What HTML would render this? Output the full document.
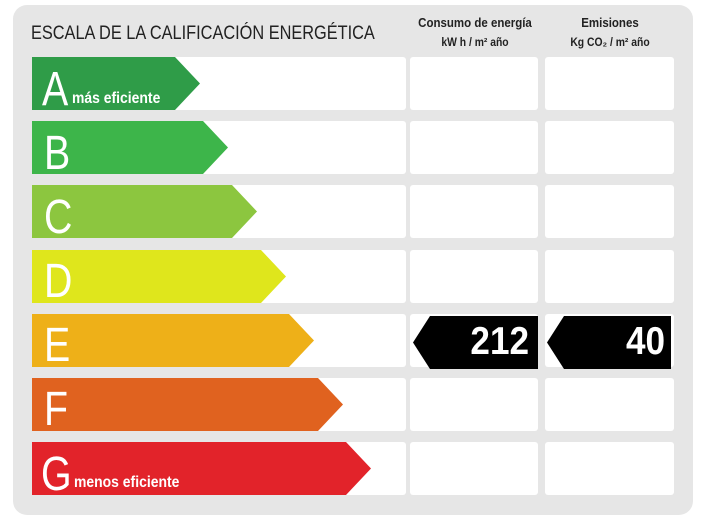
<!DOCTYPE html>
<html><head><meta charset="utf-8"><style>
html,body{margin:0;padding:0;background:#fff;}
svg{display:block;}
text{font-family:"Liberation Sans",sans-serif;}
</style></head><body>
<svg width="701" height="532" viewBox="0 0 701 532" xmlns="http://www.w3.org/2000/svg">
<rect x="0" y="0" width="701" height="532" fill="#fff"/>
<rect x="13" y="5" width="680" height="510" rx="14" fill="#e6e6e6"/>
<text x="31" y="39" font-size="19" fill="#222" transform="translate(31 0) scale(0.86 1) translate(-31 0)">ESCALA DE LA CALIFICACIÓN ENERGÉTICA</text>
<text x="475" y="27" font-size="12.5" font-weight="bold" fill="#222" text-anchor="middle" transform="translate(475 0) scale(0.92 1) translate(-475 0)">Consumo de energía</text>
<text x="475" y="46" font-size="11.5" font-weight="bold" fill="#222" text-anchor="middle" transform="translate(475 0) scale(0.9 1) translate(-475 0)">kW h / m² año</text>
<text x="610" y="27" font-size="12.5" font-weight="bold" fill="#222" text-anchor="middle" transform="translate(610 0) scale(0.92 1) translate(-610 0)">Emisiones</text>
<text x="610" y="46" font-size="11.5" font-weight="bold" fill="#222" text-anchor="middle" transform="translate(610 0) scale(0.9 1) translate(-610 0)">Kg CO₂ / m² año</text>
<g fill="#fff">
<rect x="32" y="57" width="374" height="53" rx="3"/><rect x="410" y="57" width="128" height="53" rx="3"/><rect x="545" y="57" width="129" height="53" rx="3"/>
<rect x="32" y="121" width="374" height="53" rx="3"/><rect x="410" y="121" width="128" height="53" rx="3"/><rect x="545" y="121" width="129" height="53" rx="3"/>
<rect x="32" y="185" width="374" height="53" rx="3"/><rect x="410" y="185" width="128" height="53" rx="3"/><rect x="545" y="185" width="129" height="53" rx="3"/>
<rect x="32" y="250" width="374" height="53" rx="3"/><rect x="410" y="250" width="128" height="53" rx="3"/><rect x="545" y="250" width="129" height="53" rx="3"/>
<rect x="32" y="314" width="374" height="53" rx="3"/><rect x="410" y="314" width="128" height="53" rx="3"/><rect x="545" y="314" width="129" height="53" rx="3"/>
<rect x="32" y="378" width="374" height="53" rx="3"/><rect x="410" y="378" width="128" height="53" rx="3"/><rect x="545" y="378" width="129" height="53" rx="3"/>
<rect x="32" y="442" width="374" height="53" rx="3"/><rect x="410" y="442" width="128" height="53" rx="3"/><rect x="545" y="442" width="129" height="53" rx="3"/>
</g>
<polygon points="32,57 175,57 200,83.5 175,110 32,110" fill="#2f9c48"/>
<polygon points="32,121 203,121 228,147.5 203,174 32,174" fill="#3db54a"/>
<polygon points="32,185 232,185 257,211.5 232,238 32,238" fill="#8cc63f"/>
<polygon points="32,250 261,250 286,276.5 261,303 32,303" fill="#dfe61c"/>
<polygon points="32,314 289,314 314,340.5 289,367 32,367" fill="#eeb018"/>
<polygon points="32,378 318,378 343,404.5 318,431 32,431" fill="#e0621f"/>
<polygon points="32,442 346,442 371,468.5 346,495 32,495" fill="#e2232a"/>
<g fill="#fff" font-size="48">
<text x="42" y="105" transform="translate(42 0) scale(0.82 1) translate(-42 0)">A</text>
<text x="44" y="169" transform="translate(44 0) scale(0.82 1) translate(-44 0)">B</text>
<text x="44" y="233" transform="translate(44 0) scale(0.82 1) translate(-44 0)">C</text>
<text x="44" y="297" transform="translate(44 0) scale(0.82 1) translate(-44 0)">D</text>
<text x="44" y="361" transform="translate(44 0) scale(0.82 1) translate(-44 0)">E</text>
<text x="44" y="425" transform="translate(44 0) scale(0.82 1) translate(-44 0)">F</text>
<text x="41" y="490" transform="translate(41 0) scale(0.82 1) translate(-41 0)">G</text>
</g>
<text x="72" y="103" font-size="15.5" font-weight="bold" fill="#fff" transform="translate(72 0) scale(0.9 1) translate(-72 0)">más eficiente</text>
<text x="74" y="487" font-size="15.5" font-weight="bold" fill="#fff" transform="translate(74 0) scale(0.9 1) translate(-74 0)">menos eficiente</text>
<polygon points="430,316 538,316 538,369 430,369 413,342.5" fill="#000"/>
<polygon points="564,316 671,316 671,369 564,369 547,342.5" fill="#000"/>
<text x="529" y="354" font-size="39" font-weight="bold" fill="#fff" text-anchor="end" transform="translate(529 0) scale(0.9 1) translate(-529 0)">212</text>
<text x="665" y="354" font-size="39" font-weight="bold" fill="#fff" text-anchor="end" transform="translate(665 0) scale(0.9 1) translate(-665 0)">40</text>
</svg>
</body></html>
